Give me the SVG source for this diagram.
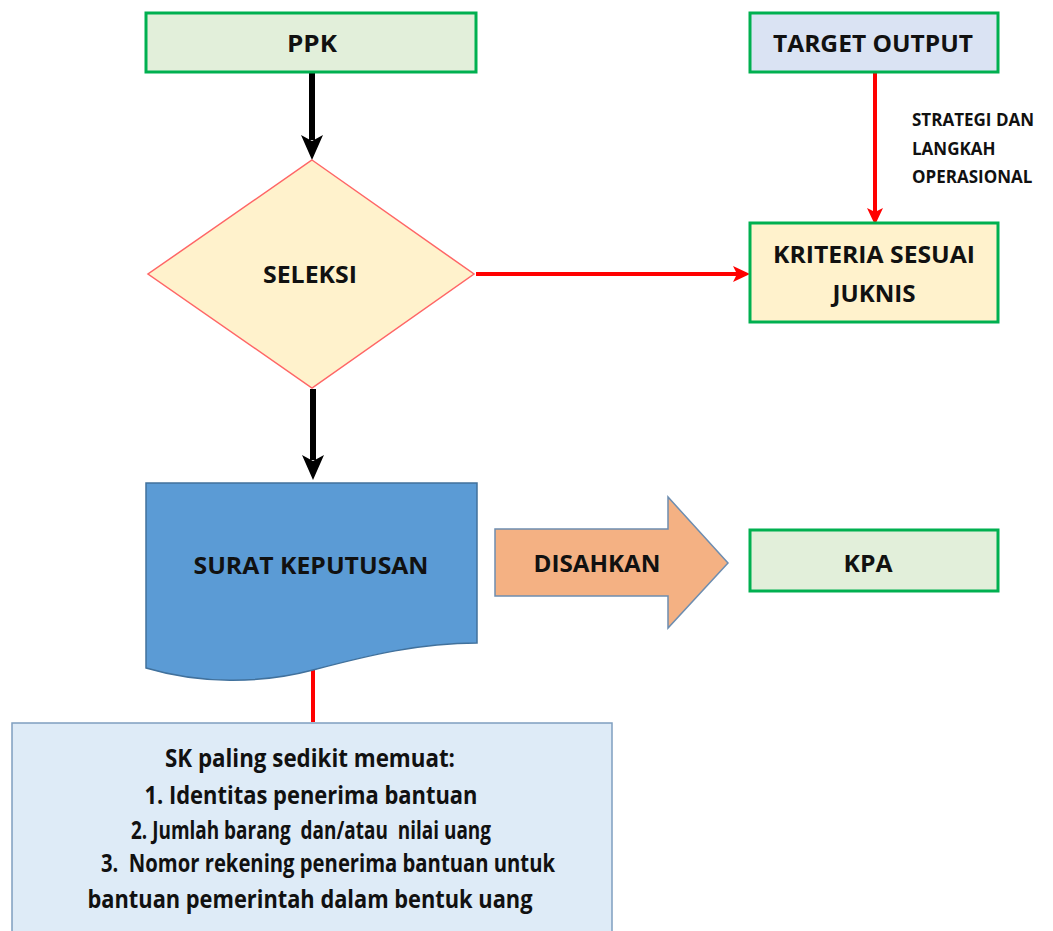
<svg xmlns="http://www.w3.org/2000/svg" width="1053" height="931" viewBox="0 0 1053 931">
<style>
.t{font-family:"Open Sans","Noto Sans","Liberation Sans",sans-serif;font-weight:700;fill:#111;text-anchor:middle}
.big{font-size:24px}
.sk{font-size:25px;white-space:pre}
.small{font-size:17px;text-anchor:start}
.green{stroke:#00B050;stroke-width:3}
.blk{stroke:#000;stroke-width:6;fill:none}
.red{stroke:#FF0000;stroke-width:4;fill:none}
</style>
<defs>
<marker id="ab" markerUnits="userSpaceOnUse" markerWidth="30" markerHeight="30" refX="5" refY="12" orient="auto" overflow="visible">
<path d="M0,1 L25,12 L0,23 L6,12 Z" fill="#000"/>
</marker>
<marker id="ar" markerUnits="userSpaceOnUse" markerWidth="30" markerHeight="30" refX="4" refY="8" orient="auto" overflow="visible">
<path d="M0,0 L17,8 L0,16 L4,8 Z" fill="#FF0000"/>
</marker>
</defs>
<rect width="1053" height="931" fill="#fff"/>
<g id="connectors">
<line class="blk" x1="312" y1="73" x2="312" y2="140" marker-end="url(#ab)"/>
<line class="blk" x1="313" y1="389" x2="313" y2="460" marker-end="url(#ab)"/>
<line class="red" x1="875" y1="73" x2="875" y2="212" marker-end="url(#ar)"/>
<line class="red" x1="476" y1="274" x2="737" y2="274" marker-end="url(#ar)"/>
<line class="red" x1="313" y1="668" x2="313" y2="722"/>
<text class="t small" x="912" y="126">STRATEGI DAN</text>
<text class="t small" x="912" y="155">LANGKAH</text>
<text class="t small" x="912" y="183">OPERASIONAL</text>
</g>
<g id="ppk">
<rect class="green" x="146" y="13" width="330" height="59" fill="#E2EFDA"/>
<text class="t big" x="312" y="52" textLength="50" lengthAdjust="spacingAndGlyphs">PPK</text>
</g>
<g id="target">
<rect class="green" x="750" y="13" width="248" height="59" fill="#DAE3F3"/>
<text class="t big" x="873" y="52" textLength="200" lengthAdjust="spacingAndGlyphs">TARGET OUTPUT</text>
</g>
<g id="seleksi">
<polygon points="312,160 474,274 312,388 148,274" fill="#FFF2CC" stroke="#FF6666" stroke-width="1.5"/>
<text class="t big" x="310" y="283" textLength="94" lengthAdjust="spacingAndGlyphs">SELEKSI</text>
</g>
<g id="kriteria">
<rect class="green" x="750" y="223" width="248" height="99" fill="#FFF2CC"/>
<text class="t big" x="874" y="263" textLength="202" lengthAdjust="spacingAndGlyphs">KRITERIA SESUAI</text>
<text class="t big" x="874" y="302" textLength="83" lengthAdjust="spacingAndGlyphs">JUKNIS</text>
</g>
<g id="surat">
<path d="M146,483 H477 V643 C420,643 370,655 313,670 C260,684 200,684 146,668 Z" fill="#5B9BD5" stroke="#41719C" stroke-width="1.5"/>
<text class="t big" x="311" y="574" textLength="235" lengthAdjust="spacingAndGlyphs">SURAT KEPUTUSAN</text>
</g>
<g id="disahkan">
<polygon points="495,529 668,529 668,497 728,563 668,628 668,596 495,596" fill="#F4B183" stroke="#6D8DB0" stroke-width="1.5"/>
<text class="t big" x="597" y="572" textLength="127" lengthAdjust="spacingAndGlyphs">DISAHKAN</text>
</g>
<g id="kpa">
<rect class="green" x="750" y="530" width="248" height="61" fill="#E2EFDA"/>
<text class="t big" x="868" y="572" textLength="49" lengthAdjust="spacingAndGlyphs">KPA</text>
</g>
<g id="sk">
<rect x="12" y="723" width="600" height="220" fill="#DEEBF7" stroke="#7F9FC0" stroke-width="1.5"/>
<text class="t sk" x="310" y="767" textLength="290" lengthAdjust="spacingAndGlyphs">SK paling sedikit memuat:</text>
<text class="t sk" x="311" y="804" textLength="333" lengthAdjust="spacingAndGlyphs">1. Identitas penerima bantuan</text>
<text class="t sk" x="311" y="839" textLength="360" lengthAdjust="spacingAndGlyphs">2. Jumlah barang  dan/atau  nilai uang</text>
<text class="t sk" x="328" y="872" textLength="454" lengthAdjust="spacingAndGlyphs">3.  Nomor rekening penerima bantuan untuk</text>
<text class="t sk" x="310" y="908" textLength="445" lengthAdjust="spacingAndGlyphs">bantuan pemerintah dalam bentuk uang</text>
</g>
</svg>
